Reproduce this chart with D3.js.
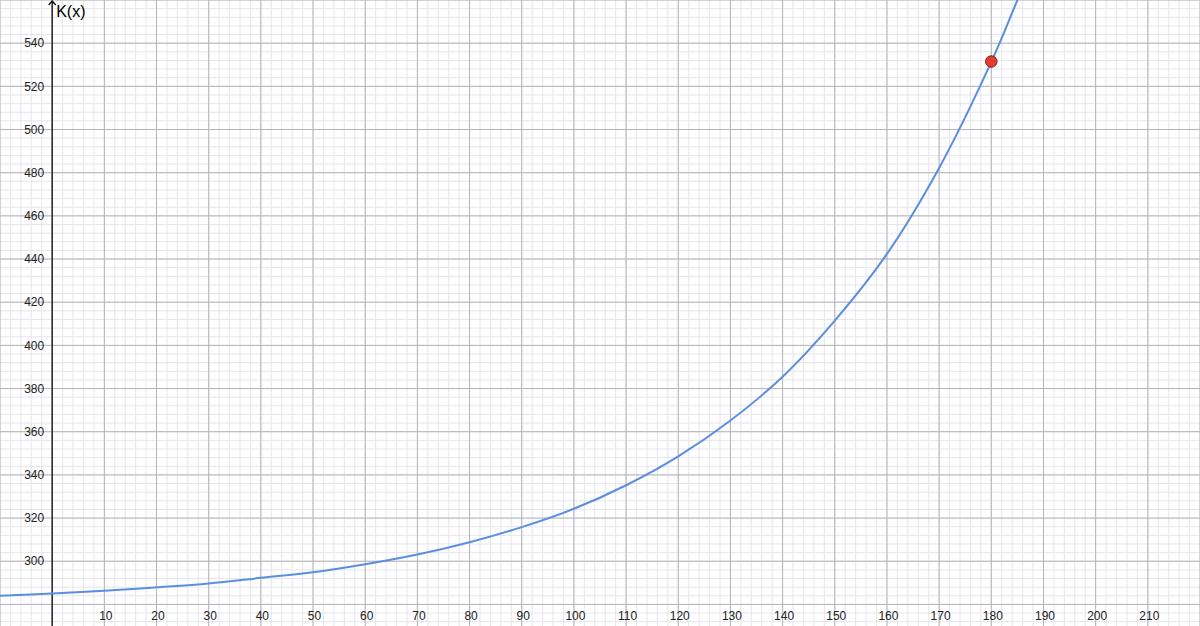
<!DOCTYPE html>
<html>
<head>
<meta charset="utf-8">
<script src="https://cdn.jsdelivr.net/npm/d3@7/dist/d3.min.js"></script>
<style>
  html, body { margin: 0; padding: 0; background: #fff; }
  svg { display: block; }
</style>
</head>
<body>
<svg id="chart"></svg>
<script>
// values (x in units, K(x) values)
var xValues = [-10, 0, 10, 20, 30, 40, 50, 60, 70, 80, 90, 100, 110, 120, 130, 140, 150, 160, 170, 180, 185, 188];
var kValues = [284.0, 285.1, 286.3, 287.9, 289.7, 292.3, 294.9, 298.6, 303.1, 308.8, 315.8, 324.3, 335.2, 348.6, 365.2, 385.5, 411.5, 442.4, 482.2, 531.3, 560, 578];

var pointX = [180];
var pointY = [531.5];

var xTicks = [10, 20, 30, 40, 50, 60, 70, 80, 90, 100, 110, 120, 130, 140, 150, 160, 170, 180, 190, 200, 210];
var yTicks = [300, 320, 340, 360, 380, 400, 420, 440, 460, 480, 500, 520, 540];
var yLabel = "K(x)";

var width = 1200, height = 626;

var svg = d3.select("#chart")
    .attr("width", width)
    .attr("height", height);

var x = d3.scaleLinear().domain([-10, 220]).range([0, width]);
var y = d3.scaleLinear().domain([270, 560]).range([height, 0]);

svg.append("rect")
    .attr("width", width)
    .attr("height", height)
    .attr("fill", "#fff");

// minor grid
var minorX = d3.range(-10, 221, 2);
var minorY = d3.range(272, 561, 4);

svg.append("g").selectAll("line")
    .data(minorX)
    .join("line")
    .attr("x1", function(d) { return x(d); })
    .attr("x2", function(d) { return x(d); })
    .attr("y1", 0).attr("y2", height)
    .attr("stroke", "#e6e4ee")
    .attr("stroke-width", 1);

svg.append("g").selectAll("line")
    .data(minorY)
    .join("line")
    .attr("y1", function(d) { return y(d); })
    .attr("y2", function(d) { return y(d); })
    .attr("x1", 0).attr("x2", width)
    .attr("stroke", "#e6e4ee")
    .attr("stroke-width", 1);

// major grid
svg.append("g").selectAll("line")
    .data(d3.range(-10, 221, 10))
    .join("line")
    .attr("x1", function(d) { return x(d); })
    .attr("x2", function(d) { return x(d); })
    .attr("y1", 0).attr("y2", height)
    .attr("stroke", "#b4b4b8")
    .attr("stroke-width", 1);

svg.append("g").selectAll("line")
    .data(d3.range(280, 561, 20))
    .join("line")
    .attr("y1", function(d) { return y(d); })
    .attr("y2", function(d) { return y(d); })
    .attr("x1", 0).attr("x2", width)
    .attr("stroke", "#b4b4b8")
    .attr("stroke-width", 1);

// y axis with arrow
svg.append("line")
    .attr("x1", x(0)).attr("x2", x(0))
    .attr("y1", 1).attr("y2", height)
    .attr("stroke", "#000")
    .attr("stroke-width", 1.2);

svg.append("path")
    .attr("d", "M" + (x(0) - 3.5) + ",5 L" + x(0) + ",1 L" + (x(0) + 3.5) + ",5")
    .attr("fill", "none")
    .attr("stroke", "#000")
    .attr("stroke-width", 1.2);

svg.append("text")
    .attr("x", x(0) + 4)
    .attr("y", 17)
    .attr("font-family", "Liberation Sans, Arial, sans-serif")
    .attr("font-size", 16)
    .attr("fill", "#000")
    .text(yLabel);

// tick labels
svg.append("g").selectAll("text")
    .data(yTicks)
    .join("text")
    .attr("x", x(0) - 8)
    .attr("y", function(d) { return y(d); })
    .attr("dy", "0.35em")
    .attr("text-anchor", "end")
    .attr("font-family", "Liberation Sans, Arial, sans-serif")
    .attr("font-size", 12)
    .attr("fill", "#222")
    .text(function(d) { return d; });

svg.append("g").selectAll("text")
    .data(xTicks)
    .join("text")
    .attr("x", function(d) { return x(d) + 1.5; })
    .attr("y", 620)
    .attr("text-anchor", "middle")
    .attr("font-family", "Liberation Sans, Arial, sans-serif")
    .attr("font-size", 12)
    .attr("fill", "#222")
    .text(function(d) { return d; });

// curve
var curveData = xValues.map(function(d, i) { return { x: d, k: kValues[i] }; });

var line = d3.line()
    .x(function(d) { return x(d.x); })
    .y(function(d) { return y(d.k); })
    .curve(d3.curveCatmullRom.alpha(0.5));

svg.append("path")
    .datum(curveData)
    .attr("fill", "none")
    .attr("stroke", "#5b8ee0")
    .attr("stroke-width", 2)
    .attr("d", line);

// point
svg.append("g").selectAll("circle")
    .data(pointX)
    .join("circle")
    .attr("cx", function(d) { return x(d); })
    .attr("cy", function(d, i) { return y(pointY[i]); })
    .attr("r", 5.8)
    .attr("fill", "#e63b2e")
    .attr("stroke", "#4a1a14")
    .attr("stroke-width", 0.8);
</script>
</body>
</html>
